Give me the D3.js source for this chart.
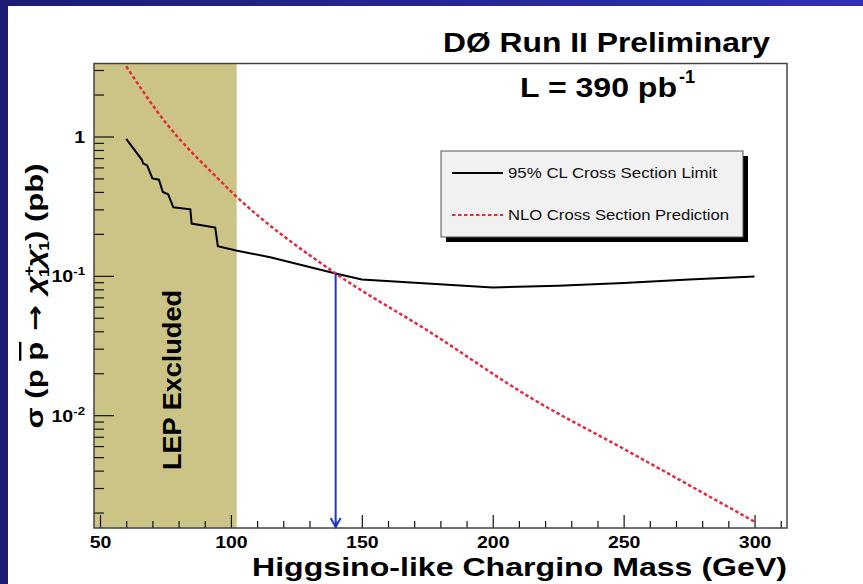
<!DOCTYPE html>
<html>
<head>
<meta charset="utf-8">
<script src="https://cdn.jsdelivr.net/npm/d3@7"></script>
<style>
  body { margin: 0; padding: 0; background: #1e1e7a; }
  #chart { width: 863px; height: 584px; }
  text { font-family: "Liberation Sans", Arial, Helvetica, sans-serif; }
</style>
</head>
<body>
<div id="chart"></div>
<script>
// 95% CL limit (black)
var limitMass = [60, 66, 66.5, 68, 70, 72.5, 74, 76, 78, 84.5, 85, 94, 95, 102, 115, 140, 150, 175, 200, 225, 250, 275, 300];
var limitXsec = [0.96, 0.68, 0.64, 0.62, 0.50, 0.49, 0.40, 0.385, 0.31, 0.30, 0.237, 0.222, 0.163, 0.152, 0.136, 0.104, 0.094, 0.088, 0.0824, 0.085, 0.089, 0.094, 0.099];
// NLO prediction (red dashed)
var nloMass = [60, 75.5, 85.6, 90.8, 101.6, 140, 176, 214, 251, 300];
var nloXsec = [3.19, 1.23, 0.75, 0.60, 0.378, 0.104, 0.0395, 0.0135, 0.0056, 0.00172];

var xMajor = [50, 100, 150, 200, 250, 300];
var xMinor = [60, 70, 80, 90, 110, 120, 130, 140, 160, 170, 180, 190, 210, 220, 230, 240, 260, 270, 280, 290, 310];
var yMajor = [1, 0.1, 0.01];
var yBase = ["1", "10", "10"];
var yExp = ["", "-1", "-2"];
var lepLimit = 102.2;
var massLimit = 140;
var massLimitXsec = 0.104;
var legendLabels = ["95% CL Cross Section Limit", "NLO Cross Section Prediction"];

(function() {
  var W = 863, H = 584;
  var svg = d3.select("#chart").append("svg")
    .attr("width", W).attr("height", H);

  // the original fonts are a bit wider than Liberation, stretch to fit
  let stretch = (sel, len) => sel.attr("textLength", len).attr("lengthAdjust", "spacingAndGlyphs");
  let widen = (sel, f) => sel.each(function() {
    var n = this.getComputedTextLength();
    d3.select(this).attr("textLength", n * f).attr("lengthAdjust", "spacingAndGlyphs");
  });

  var defs = svg.append("defs");
  var grad = defs.append("linearGradient").attr("id", "bg")
    .attr("x1", "0").attr("y1", "0").attr("x2", "1").attr("y2", "0");
  grad.append("stop").attr("offset", "0").attr("stop-color", "#1c1c72");
  grad.append("stop").attr("offset", "1").attr("stop-color", "#3030b4");

  svg.append("rect").attr("width", W).attr("height", H).attr("fill", "url(#bg)");
  svg.append("rect").attr("x", 8).attr("y", 6).attr("width", W - 8).attr("height", H - 6).attr("fill", "#fff");

  var left = 94, right = 787, top = 63.5, bottom = 528;
  var x = d3.scaleLinear().domain([47.7, 312.4]).range([left, right]);
  var y = d3.scaleLog().domain([3.34, 1.55e-3]).range([top, bottom]);

  // LEP excluded band
  svg.append("rect")
    .attr("x", x(47.7)).attr("y", top)
    .attr("width", x(lepLimit) - x(47.7)).attr("height", bottom - top)
    .attr("fill", "#cbc486");
  svg.append("text")
    .attr("transform", "translate(" + 181 + "," + 380 + ") rotate(-90)")
    .attr("text-anchor", "middle")
    .attr("font-size", 26).attr("font-weight", "bold")
    .call(stretch, 180)
    .text("LEP Excluded");

  // axes, ROOT style: ticks inside
  var xAx = svg.append("g").attr("transform", "translate(0," + bottom + ")")
    .call(d3.axisBottom(x).tickValues(xMajor).tickSize(-13).tickPadding(8).tickFormat(d3.format("d")));
  svg.append("g").attr("transform", "translate(0," + bottom + ")")
    .call(d3.axisBottom(x).tickValues(xMinor).tickSize(-7).tickFormat(""));
  var yAx = svg.append("g").attr("transform", "translate(" + left + ",0)")
    .call(d3.axisLeft(y).tickValues(yMajor).tickSize(-20).tickPadding(10).tickFormat(""));
  var yMinor = [];
  [0.001, 0.01, 0.1, 1].forEach(function(dec) {
    for (var k = 2; k <= 9; k++) {
      var v = k * dec;
      if (v > 1.55e-3 && v < 3.34) yMinor.push(v);
    }
  });
  svg.append("g").attr("transform", "translate(" + left + ",0)")
    .call(d3.axisLeft(y).tickValues(yMinor).tickSize(-10).tickFormat(""));

  svg.selectAll(".domain").remove();
  svg.selectAll(".tick line").attr("stroke", "#111").attr("stroke-width", 1.2);
  xAx.selectAll("text").attr("font-size", 16.5).attr("font-weight", "bold")
    .attr("fill", "#000").attr("font-family", "Liberation Sans, Arial, sans-serif")
    .call(widen, 1.18);

  yAx.selectAll(".tick").each(function(d, i) {
    var t = d3.select(this).append("text")
      .attr("x", -9).attr("dy", "0.36em")
      .attr("text-anchor", "end")
      .attr("font-size", 17).attr("font-weight", "bold")
      .attr("fill", "#000").attr("font-family", "Liberation Sans, Arial, sans-serif");
    t.append("tspan").text(yBase[i]);
    if (yExp[i]) {
      t.append("tspan").attr("dy", -7).attr("font-size", 11.5).text(yExp[i]);
    }
    t.call(widen, 1.15);
  });

  // frame
  svg.append("rect")
    .attr("x", left).attr("y", top)
    .attr("width", right - left).attr("height", bottom - top)
    .attr("fill", "none").attr("stroke", "#444").attr("stroke-width", 1.5);

  // curves
  var limitLine = d3.line()
    .x(function(d, i) { return x(limitMass[i]); })
    .y(function(d) { return y(d); });
  svg.append("path")
    .attr("d", limitLine(limitXsec))
    .attr("fill", "none").attr("stroke", "#000").attr("stroke-width", 2);

  var nloLine = d3.line()
    .x(function(d, i) { return x(nloMass[i]); })
    .y(function(d) { return y(d); })
    .curve(d3.curveMonotoneX);
  svg.append("path")
    .attr("d", nloLine(nloXsec))
    .attr("fill", "none").attr("stroke", "#e42a3c").attr("stroke-width", 2.5)
    .attr("stroke-dasharray", "3.5,2.5");

  // blue arrow at the mass limit
  var ax = x(massLimit);
  svg.append("line")
    .attr("x1", ax).attr("x2", ax)
    .attr("y1", y(massLimitXsec)).attr("y2", bottom - 1)
    .attr("stroke", "#2233d4").attr("stroke-width", 2);
  svg.append("path")
    .attr("d", "M" + (ax - 5) + "," + (bottom - 10) + "L" + ax + "," + (bottom - 1) + "L" + (ax + 5) + "," + (bottom - 10))
    .attr("fill", "none").attr("stroke", "#2233d4").attr("stroke-width", 2);

  // legend
  var lg = svg.append("g").attr("transform", "translate(441,151)");
  lg.append("rect").attr("x", 5).attr("y", 5).attr("width", 302).attr("height", 86).attr("fill", "#000");
  lg.append("rect").attr("width", 302).attr("height", 86)
    .attr("fill", "#f1f1f1").attr("stroke", "#555").attr("stroke-width", 1);
  var rowY = [22, 64];
  var rowLen = [209, 221];
  legendLabels.forEach(function(lab, i) {
    var ln = lg.append("line")
      .attr("x1", 11).attr("x2", 62).attr("y1", rowY[i]).attr("y2", rowY[i]);
    if (i === 0) ln.attr("stroke", "#000").attr("stroke-width", 2);
    else ln.attr("stroke", "#e42a3c").attr("stroke-width", 2).attr("stroke-dasharray", "3.5,2.5");
    lg.append("text")
      .attr("x", 67).attr("y", rowY[i] + 5)
      .attr("font-size", 14.5).attr("fill", "#111")
      .call(stretch, rowLen[i])
      .text(lab);
  });

  // titles
  svg.append("text")
    .attr("x", 443).attr("y", 52)
    .attr("font-size", 28).attr("font-weight", "bold")
    .call(stretch, 327)
    .text("D\u00D8 Run II Preliminary");
  svg.append("text")
    .attr("x", 520).attr("y", 97)
    .attr("font-size", 28).attr("font-weight", "bold")
    .call(stretch, 157)
    .text("L = 390 pb");
  svg.append("text")
    .attr("x", 679).attr("y", 83)
    .attr("font-size", 18).attr("font-weight", "bold")
    .text("-1");

  svg.append("text")
    .attr("x", right).attr("y", 576)
    .attr("text-anchor", "end")
    .attr("font-size", 26).attr("font-weight", "bold")
    .call(stretch, 535)
    .text("Higgsino-like Chargino Mass (GeV)");

  // y title: sigma (p pbar -> chi1+ chi1-) (pb)
  var yt = svg.append("text")
    .attr("transform", "translate(43,296) rotate(-90)")
    .attr("text-anchor", "middle")
    .attr("font-size", 24).attr("font-weight", "bold")
    .call(stretch, 265);
  yt.append("tspan").text("\u03C3 (p ");
  yt.append("tspan").attr("text-decoration", "overline").text("p");
  yt.append("tspan").attr("font-family", "DejaVu Sans").text(" \u2192 ");
  yt.append("tspan").attr("font-style", "italic").text("\u03C7");
  yt.append("tspan").attr("dy", -9).attr("font-size", 14).text("+");
  yt.append("tspan").attr("dx", -9).attr("dy", 15).attr("font-size", 14).text("1");
  yt.append("tspan").attr("dy", -6).attr("font-style", "italic").text("\u03C7");
  yt.append("tspan").attr("dy", -9).attr("font-size", 14).text("-");
  yt.append("tspan").attr("dx", -6).attr("dy", 15).attr("font-size", 14).text("1");
  yt.append("tspan").attr("dy", -6).text(") (pb)");
})();
</script>
</body>
</html>
